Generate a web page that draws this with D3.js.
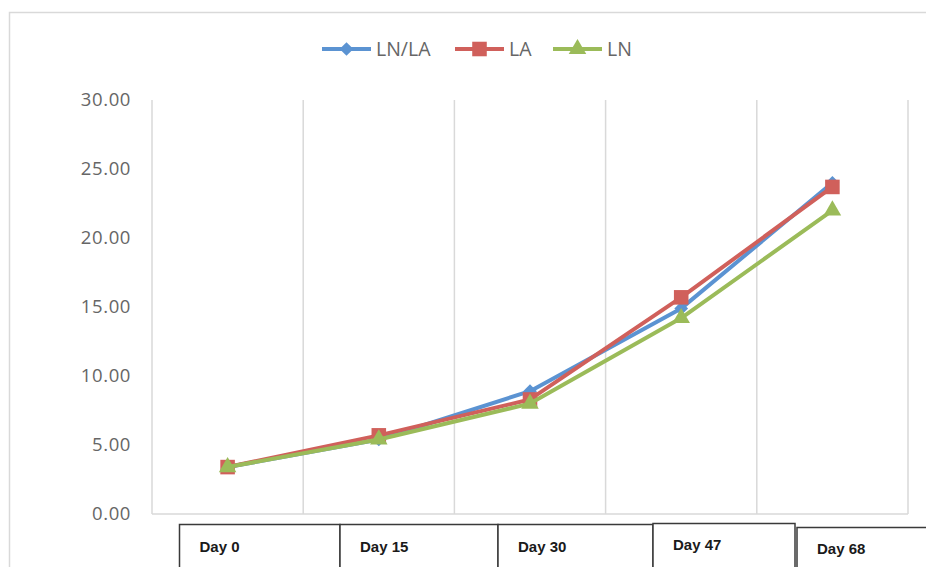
<!DOCTYPE html>
<html>
<head>
<meta charset="utf-8">
<script src="https://cdn.jsdelivr.net/npm/d3@7"></script>
<style>
  html, body { margin: 0; padding: 0; background: #fff; }
  svg { display: block; }
</style>
</head>
<body>
<svg id="chart" width="926" height="567"></svg>
<script>
// Sampling days and measured values per treatment
const days = ["Day 0", "Day 15", "Day 30", "Day 47", "Day 68"];
const lnla = [3.4, 5.4, 8.9, 14.9, 24.0];
const la   = [3.4, 5.7, 8.3, 15.7, 23.7];
const ln   = [3.4, 5.4, 8.0, 14.2, 22.0];
const yTicks = [0, 5, 10, 15, 20, 25, 30];

const series = [
  { name: "LN/LA", values: lnla, color: "#5B93D2", symbol: d3.symbolDiamond2,  size: 120 },
  { name: "LA",    values: la,   color: "#D0605B", symbol: d3.symbolSquare2,   size: 270 },
  { name: "LN",    values: ln,   color: "#9BBB59", symbol: d3.symbolTriangle2, size: 220 }
];

const svg = d3.select("#chart");
const plot = { left: 152, right: 908, top: 100, bottom: 514 };

// outer chart frame
svg.append("rect")
  .attr("x", 9.5).attr("y", 12.5)
  .attr("width", 940).attr("height", 600)
  .attr("fill", "#fff").attr("stroke", "#d9d9d9").attr("stroke-width", 1.5);

const x = d3.scaleBand().domain(days).range([plot.left, plot.right]).padding(0);
const y = d3.scaleLinear().domain([0, 30]).range([plot.bottom, plot.top]);
const cx = d => x(d) + x.bandwidth() / 2;

// vertical category gridlines
const gridX = days.map(d => x(d)).concat([plot.right]);
svg.append("g").selectAll("line").data(gridX).join("line")
  .attr("x1", d => d).attr("x2", d => d)
  .attr("y1", plot.top).attr("y2", plot.bottom)
  .attr("stroke", "#d9d9d9").attr("stroke-width", 1.5);

// horizontal baseline
svg.append("line")
  .attr("x1", plot.left).attr("x2", plot.right)
  .attr("y1", plot.bottom).attr("y2", plot.bottom)
  .attr("stroke", "#d9d9d9").attr("stroke-width", 1.5);

// y axis labels
const yAxis = d3.axisLeft(y).tickValues(yTicks).tickFormat(d3.format(".2f")).tickSize(0).tickPadding(0);
const ya = svg.append("g").attr("transform", "translate(131,0)").call(yAxis);
ya.select(".domain").remove();
ya.selectAll("text")
  .attr("font-family", "'Open Sans', sans-serif")
  .attr("font-size", 18.5)
  .attr("fill", "#666")
  .attr("letter-spacing", 0.6);

// series lines and markers
const line = d3.line().x((v, i) => cx(days[i])).y(v => y(v));
series.forEach(s => {
  const g = svg.append("g");
  g.append("path")
    .attr("d", line(s.values))
    .attr("fill", "none")
    .attr("stroke", s.color)
    .attr("stroke-width", 4)
    .attr("stroke-linejoin", "round");
  g.selectAll("path.m").data(s.values).join("path")
    .attr("class", "m")
    .attr("d", d3.symbol().type(s.symbol).size(s.size))
    .attr("transform", (v, i) => `translate(${cx(days[i])},${y(v)})`)
    .attr("fill", s.color);
});

// legend
const legendItems = [
  { s: series[0], x: 322 },
  { s: series[1], x: 455 },
  { s: series[2], x: 553 }
];
const lg = svg.append("g");
legendItems.forEach(it => {
  const g = lg.append("g").attr("transform", `translate(${it.x},49)`);
  g.append("line").attr("x1", 0).attr("x2", 49).attr("y1", 0).attr("y2", 0)
    .attr("stroke", it.s.color).attr("stroke-width", 4);
  g.append("path")
    .attr("d", d3.symbol().type(it.s.symbol).size(it.s.size))
    .attr("transform", "translate(24.5,0)")
    .attr("fill", it.s.color);
  g.append("text")
    .attr("x", 54).attr("y", 7)
    .attr("font-family", "'Open Sans', sans-serif")
    .attr("font-size", 19.5)
    .attr("fill", "#666")
    .text(it.s.name);
});

// boxed category labels beneath the axis
const boxes = [
  { x0: 179.5, x1: 340, top: 524.5, base: 552 },
  { x0: 340,   x1: 498, top: 524.5, base: 552 },
  { x0: 498,   x1: 653, top: 524.5, base: 552 },
  { x0: 653,   x1: 795, top: 523.5, base: 550 },
  { x0: 797,   x1: 940, top: 527.5, base: 554 }
];
const bg = svg.append("g");
days.forEach((d, i) => {
  const b = boxes[i];
  bg.append("rect")
    .attr("x", b.x0).attr("y", b.top)
    .attr("width", b.x1 - b.x0).attr("height", 80)
    .attr("fill", "#fff").attr("stroke", "#3a3a3a").attr("stroke-width", 1.5);
  bg.append("text")
    .attr("x", b.x0 + 20).attr("y", b.base)
    .attr("font-family", "'Liberation Sans', Arial, sans-serif")
    .attr("font-weight", "bold")
    .attr("font-size", 15)
    .attr("fill", "#1a1a1a")
    .text(d);
});
</script>
</body>
</html>
